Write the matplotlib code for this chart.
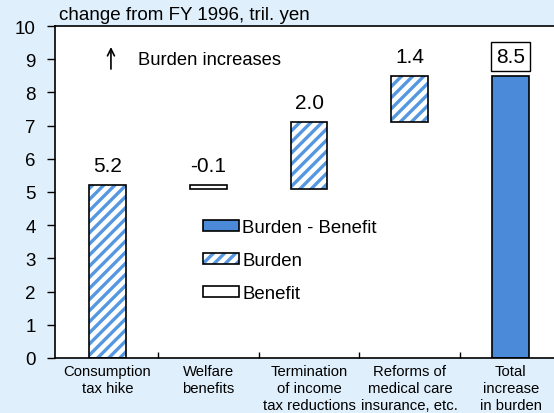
import matplotlib
matplotlib.use("Agg")
import matplotlib.pyplot as plt
from matplotlib.patches import Patch
from matplotlib.legend_handler import HandlerTuple
import numpy as np

plt.rcParams['font.family'] = ['Liberation Sans', 'DejaVu Sans']
plt.rcParams['hatch.linewidth'] = 2.4

categories = ["Consumption\ntax hike", "Welfare\nbenefits", "Termination\nof income\ntax reductions",
              "Reforms of\nmedical care\ninsurance, etc.", "Total\nincrease\nin burden"]
bottoms = [0.0, 5.1, 5.1, 7.1, 0.0]
tops = [5.2, 5.2, 7.1, 8.5, 8.5]
kinds = ["burden", "benefit", "burden", "burden", "total"]
value_labels = ["5.2", "-0.1", "2.0", "1.4", "8.5"]
label_y = [5.5, 5.5, 7.4, 8.8, 8.8]

BLUE = "#4a8ad8"
HATCH = "#5597e0"
BG = "#dfeffb"

fig = plt.figure(figsize=(5.54, 4.14), dpi=100, facecolor=BG)
ax = fig.add_axes([55/554, 1-359/414, 1-55/554, 332/414])
ax.set_facecolor("white")

x = np.arange(len(categories))
w = 0.366
for i in range(len(categories)):
    h = tops[i] - bottoms[i]
    if kinds[i] == "burden":
        ax.bar(x[i], h, w, bottom=bottoms[i], facecolor="white", edgecolor=HATCH, hatch="///", linewidth=0)
        ax.bar(x[i], h, w, bottom=bottoms[i], facecolor="none", edgecolor="black", linewidth=1.2)
    elif kinds[i] == "benefit":
        ax.bar(x[i], h, w, bottom=bottoms[i], facecolor="white", edgecolor="black", linewidth=1.2)
    else:
        ax.bar(x[i], h, w, bottom=bottoms[i], facecolor=BLUE, edgecolor="black", linewidth=1.2)

for i, t in enumerate(value_labels):
    if kinds[i] == "total":
        ax.text(x[i], label_y[i], t, ha="center", va="bottom", fontsize=15,
                bbox=dict(boxstyle="square,pad=0.25", facecolor="white", edgecolor="black", linewidth=1))
    else:
        ax.text(x[i], label_y[i], t, ha="center", va="bottom", fontsize=15)

ax.annotate("", xy=(0.035, 9.45), xytext=(0.035, 8.62),
            arrowprops=dict(arrowstyle="->,head_length=0.5,head_width=0.25", color="black", lw=1.2))
ax.text(0.30, 8.98, "Burden increases", ha="left", va="center", fontsize=13.2)

ax.set_xlim(-0.52, 4.43)
ax.set_ylim(0, 10)
ax.set_yticks(range(0, 11))
ax.tick_params(axis="y", direction="out", length=6, width=1, labelsize=13.5, pad=8)
ax.set_xticks(x)
ax.set_xticklabels(categories, fontsize=10.7, linespacing=1.3)
ax.tick_params(axis="x", which="major", length=0, pad=4)
ax.set_xticks(np.arange(0.5, 4.0, 1.0), minor=True)
ax.tick_params(axis="x", which="minor", direction="in", length=4, width=1)
for s in ["left", "bottom", "top"]:
    ax.spines[s].set_linewidth(1.2)
ax.spines["right"].set_visible(False)

h_total = Patch(facecolor=BLUE, edgecolor="black", linewidth=1.2)
h_burden = (Patch(facecolor="white", edgecolor=HATCH, hatch="///", linewidth=0),
            Patch(facecolor="none", edgecolor="black", linewidth=1.2))
h_benefit = Patch(facecolor="white", edgecolor="black", linewidth=1.2)
leg = ax.legend([h_total, h_burden, h_benefit], ["Burden - Benefit", "Burden", "Benefit"],
                loc="upper left", handler_map={tuple: HandlerTuple(ndivide=1, pad=0)},
                bbox_to_anchor=((203-55)/499, 1-(220-27)/332), frameon=False, fontsize=13.4,
                handlelength=1.95, handleheight=0.5, handletextpad=0.15, labelspacing=0.86,
                borderaxespad=0, borderpad=0)

fig.text(59/554, 1-20/414, "change from FY 1996, tril. yen", fontsize=13.5, ha="left", va="baseline")

fig.savefig("out.png", dpi=100, facecolor=BG)
